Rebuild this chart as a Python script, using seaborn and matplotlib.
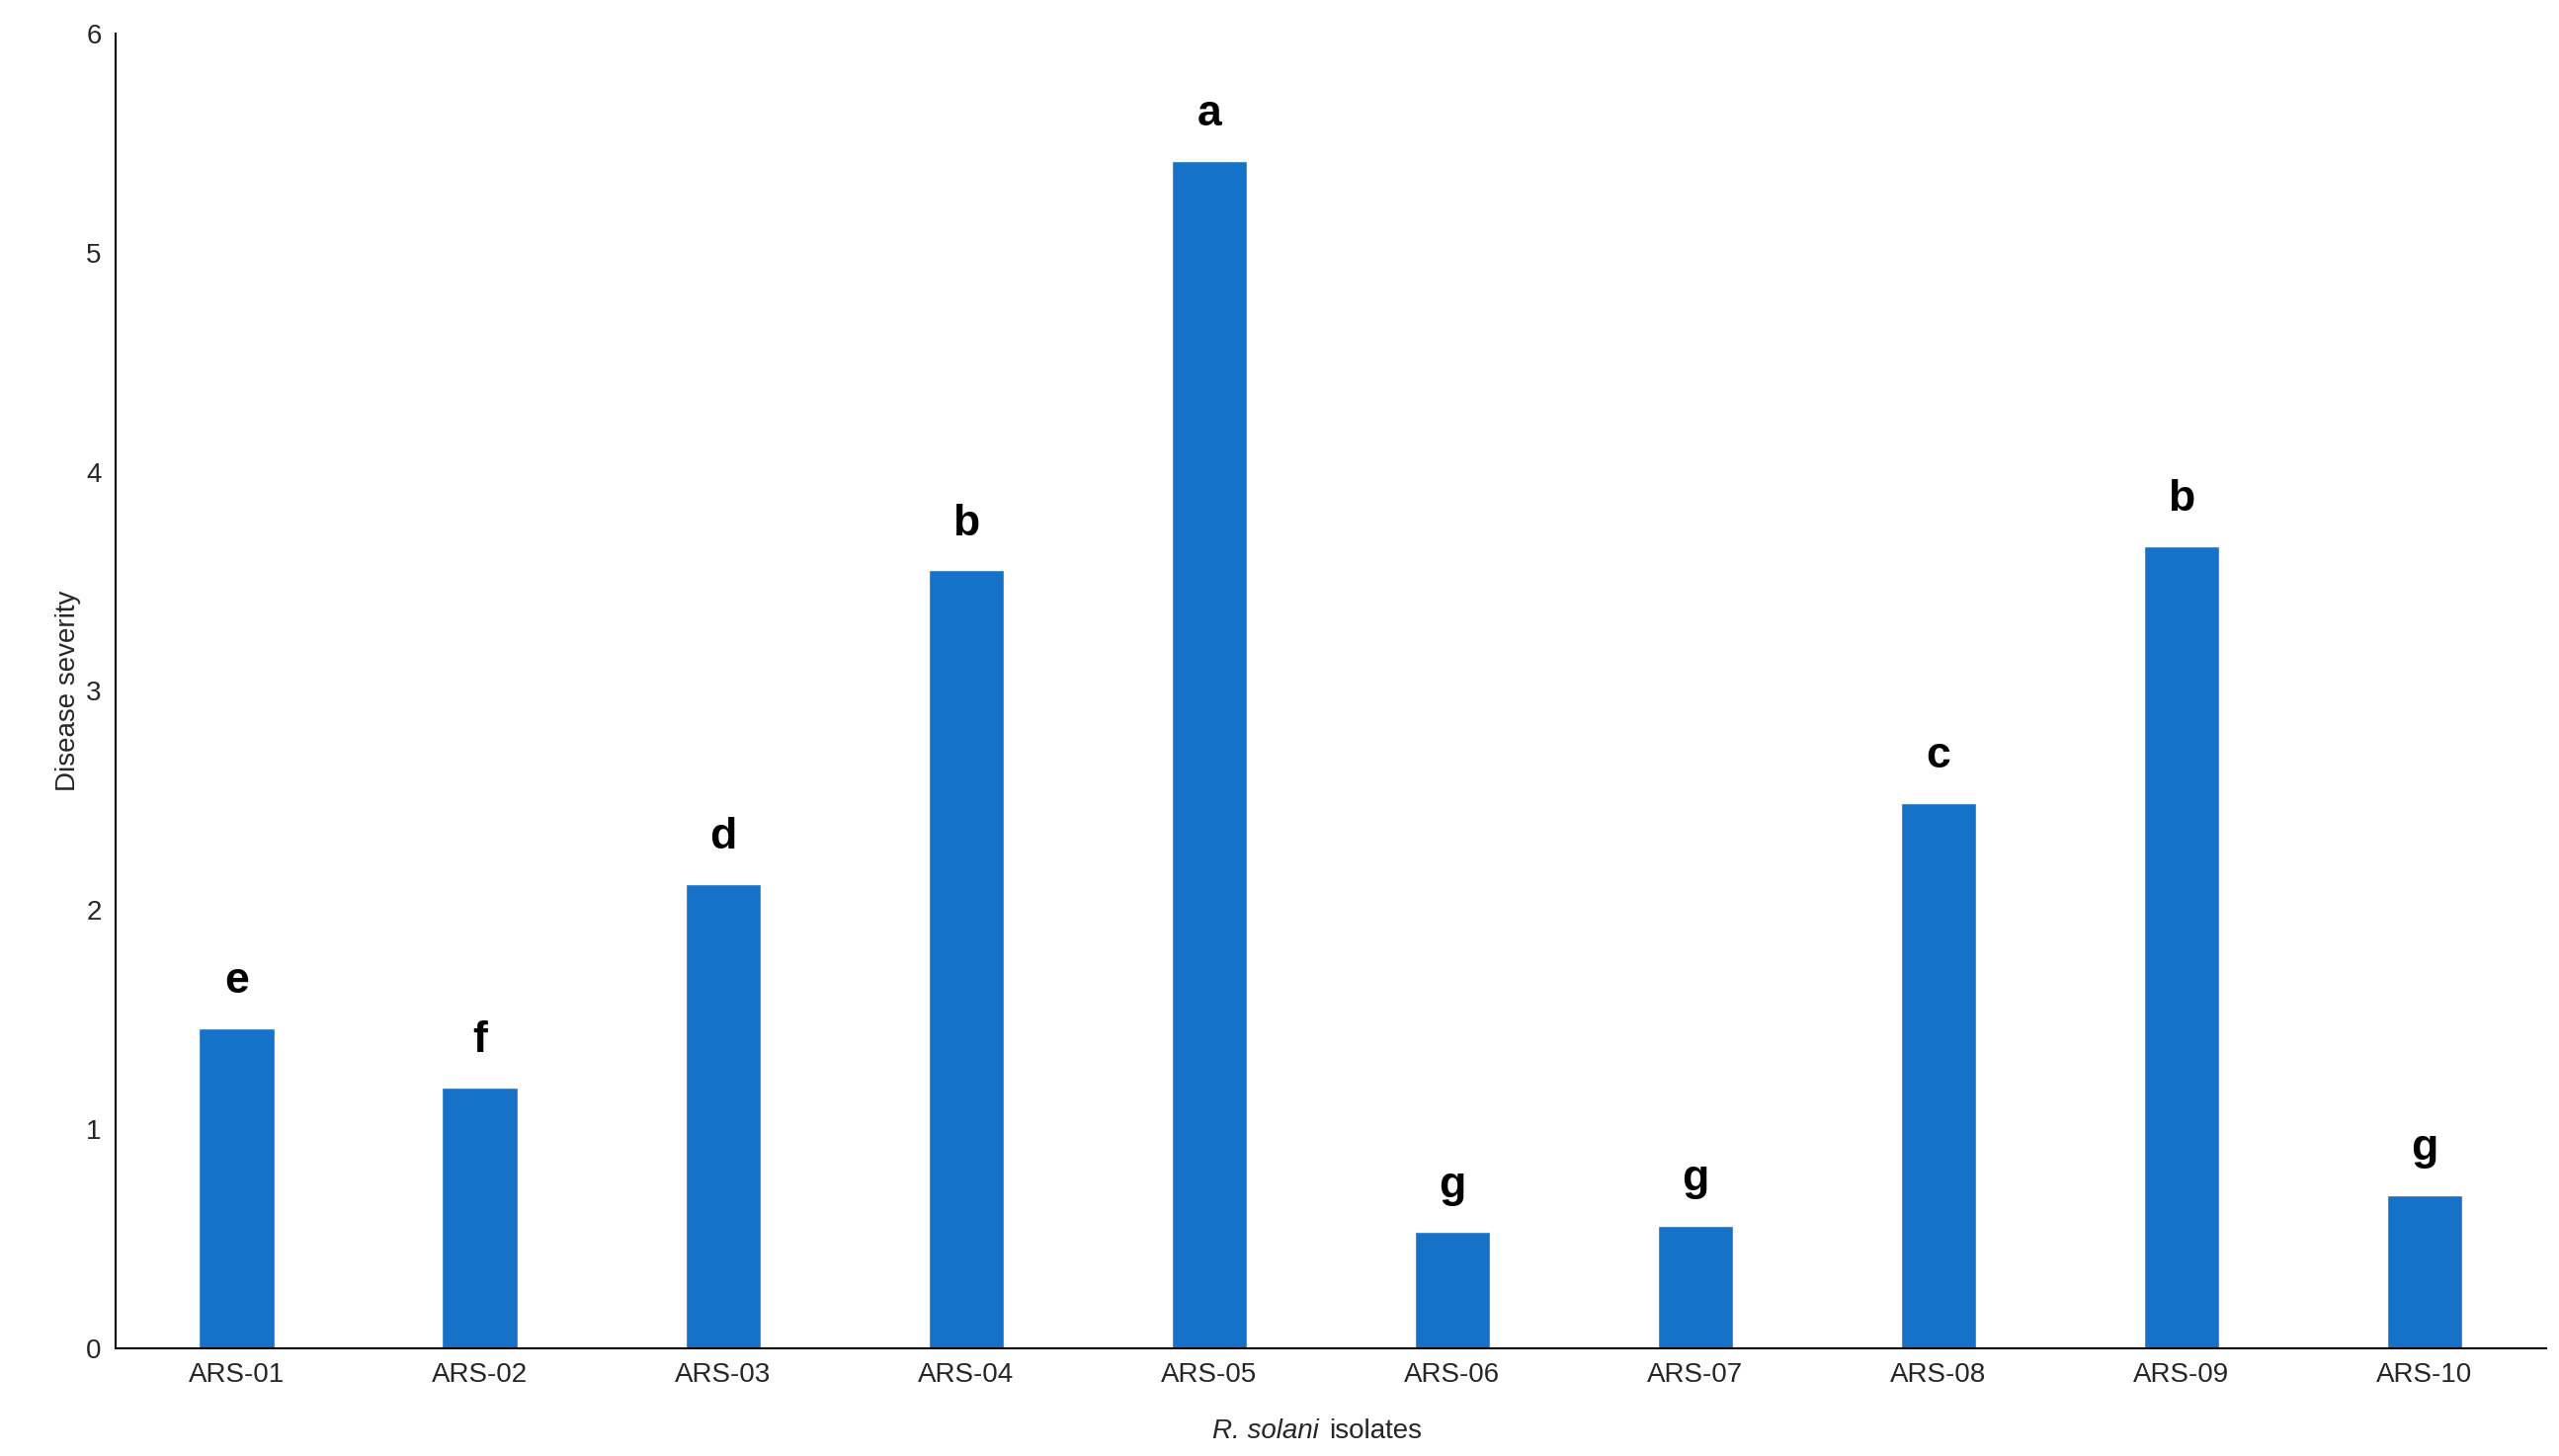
import matplotlib
matplotlib.use("Agg")
import matplotlib.pyplot as plt
import seaborn as sns
import pandas as pd

isolates = ["ARS-01","ARS-02","ARS-03","ARS-04","ARS-05","ARS-06","ARS-07","ARS-08","ARS-09","ARS-10"]
severity = [1.46, 1.19, 2.12, 3.55, 5.42, 0.53, 0.56, 2.49, 3.66, 0.70]
letters = ["e","f","d","b","a","g","g","c","b","g"]

sns.set_theme(style="white")
plt.rcParams['font.family'] = ['Liberation Sans', 'DejaVu Sans']

df = pd.DataFrame({"isolate": isolates, "severity": severity})
fig = plt.figure(figsize=(25.9, 14.74), dpi=100)
ax = fig.add_axes([0.045, 0.074, 0.95, 0.903])
sns.barplot(data=df, x="isolate", y="severity", color="#1572C8", saturation=1, width=0.31, ax=ax)
for i, (v, l) in enumerate(zip(severity, letters)):
    ax.text(i, v + 0.12, l, ha="center", va="bottom", fontsize=32, fontweight="bold", color="black")
ax.set_ylim(0, 6)
ax.set_xlim(-0.5, 9.5)
ax.set_yticks(range(7))
ax.tick_params(axis="both", labelsize=20, length=0, pad=10)
ax.set_ylabel("Disease severity", fontsize=20)
ax.set_xlabel(r"$\it{R.\ solani}$ isolates", fontsize=20, labelpad=6)
ax.xaxis.label.set_text("")
fig.text(0.5195, 0.012, "isolates", fontsize=20, ha="left")
fig.text(0.5185, 0.012, "R. solani ", fontsize=20, style="italic", ha="right")
for s in ["top", "right"]:
    ax.spines[s].set_visible(False)
for s in ["left", "bottom"]:
    ax.spines[s].set_color("black")
    ax.spines[s].set_linewidth(1.5)
fig.savefig("out.png", dpi=100)
